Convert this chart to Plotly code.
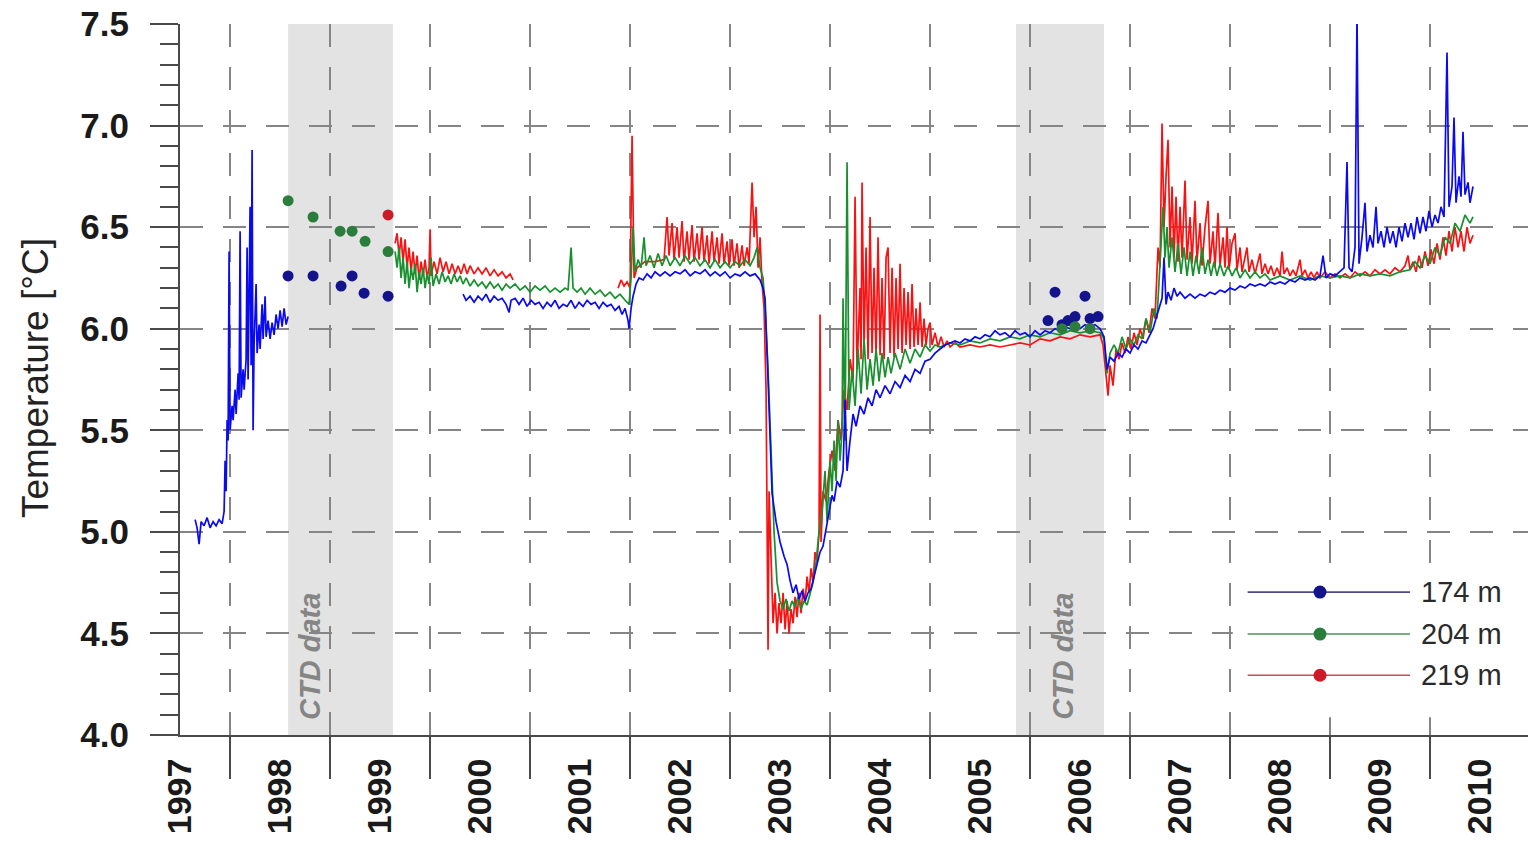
import plotly.graph_objects as go

# ---------------- data (decimal year, temperature °C) ----------------
T174 = [
    (1997.65, 5.06), (1997.67, 5.02), (1997.69, 4.94), (1997.71, 5.05), (1997.74, 5.03), (1997.77, 5.07),
    (1997.80, 5.02), (1997.83, 5.05), (1997.86, 5.03), (1997.89, 5.06), (1997.92, 5.04), (1997.94, 5.10),
    (1997.95, 5.35), (1997.96, 5.20), (1997.97, 5.55), (1997.98, 5.45), (1997.99, 6.38), (1998.00, 5.50),
    (1998.02, 5.62), (1998.03, 5.55), (1998.05, 5.70), (1998.06, 5.58), (1998.08, 5.78), (1998.09, 5.65),
    (1998.10, 6.48), (1998.11, 5.66), (1998.13, 5.80), (1998.14, 5.70), (1998.16, 5.85), (1998.17, 6.40),
    (1998.18, 5.75), (1998.20, 6.60), (1998.21, 5.82), (1998.22, 6.88), (1998.23, 5.50), (1998.24, 5.92),
    (1998.26, 6.22), (1998.27, 5.88), (1998.29, 6.02), (1998.30, 5.90), (1998.32, 6.12), (1998.33, 5.95),
    (1998.35, 6.16), (1998.36, 5.96), (1998.38, 6.04), (1998.40, 5.95), (1998.42, 6.03), (1998.44, 5.97),
    (1998.46, 6.07), (1998.48, 6.00), (1998.50, 6.09), (1998.52, 6.01), (1998.54, 6.10), (1998.56, 6.02),
    (1998.58, 6.06), (1999.00, None),
    (2000.33, 6.17), (2000.36, 6.14), (2000.40, 6.16), (2000.44, 6.13), (2000.48, 6.16), (2000.52, 6.14),
    (2000.56, 6.17), (2000.60, 6.13), (2000.64, 6.16), (2000.68, 6.14), (2000.72, 6.15), (2000.76, 6.12),
    (2000.79, 6.08), (2000.81, 6.14), (2000.85, 6.15), (2000.89, 6.12), (2000.93, 6.15), (2000.97, 6.11),
    (2001.01, 6.14), (2001.05, 6.12), (2001.09, 6.13), (2001.13, 6.10), (2001.17, 6.13), (2001.21, 6.11),
    (2001.25, 6.14), (2001.29, 6.10), (2001.33, 6.12), (2001.37, 6.11), (2001.41, 6.14), (2001.45, 6.10),
    (2001.49, 6.13), (2001.53, 6.11), (2001.57, 6.14), (2001.61, 6.12), (2001.65, 6.13), (2001.69, 6.10),
    (2001.73, 6.13), (2001.77, 6.11), (2001.81, 6.12), (2001.85, 6.09), (2001.89, 6.11), (2001.92, 6.07),
    (2001.95, 6.10), (2001.98, 6.04), (2001.99, 6.00), (2002.01, 6.10), (2002.03, 6.16), (2002.06, 6.22),
    (2002.09, 6.25), (2002.13, 6.24), (2002.17, 6.27), (2002.21, 6.25), (2002.25, 6.28), (2002.30, 6.26),
    (2002.35, 6.28), (2002.40, 6.26), (2002.45, 6.28), (2002.50, 6.27), (2002.55, 6.29), (2002.60, 6.26),
    (2002.65, 6.28), (2002.70, 6.27), (2002.75, 6.29), (2002.80, 6.26), (2002.85, 6.28), (2002.90, 6.26),
    (2002.95, 6.28), (2003.00, 6.25), (2003.05, 6.27), (2003.10, 6.26), (2003.15, 6.28), (2003.20, 6.26),
    (2003.25, 6.27), (2003.30, 6.24), (2003.33, 6.20), (2003.35, 6.15), (2003.38, 5.75), (2003.42, 5.19),
    (2003.46, 5.05), (2003.50, 4.95), (2003.54, 4.88), (2003.57, 4.84), (2003.60, 4.76), (2003.63, 4.70),
    (2003.66, 4.74), (2003.69, 4.67), (2003.72, 4.71), (2003.75, 4.66), (2003.78, 4.70), (2003.81, 4.72),
    (2003.84, 4.78), (2003.87, 4.84), (2003.90, 4.90), (2003.93, 4.93), (2003.96, 5.02), (2003.99, 5.10),
    (2004.02, 5.18), (2004.04, 5.15), (2004.07, 5.25), (2004.10, 5.22), (2004.13, 5.30), (2004.15, 5.65),
    (2004.17, 5.30), (2004.20, 5.45), (2004.23, 5.58), (2004.26, 5.52), (2004.30, 5.62), (2004.34, 5.58),
    (2004.38, 5.66), (2004.42, 5.62), (2004.46, 5.70), (2004.50, 5.66), (2004.55, 5.72), (2004.60, 5.68),
    (2004.65, 5.74), (2004.70, 5.71), (2004.75, 5.77), (2004.80, 5.74), (2004.85, 5.80), (2004.90, 5.78),
    (2004.95, 5.84), (2005.00, 5.85), (2005.05, 5.88), (2005.10, 5.90), (2005.15, 5.92), (2005.20, 5.93),
    (2005.25, 5.94), (2005.30, 5.93), (2005.35, 5.95), (2005.40, 5.94), (2005.45, 5.96), (2005.50, 5.95),
    (2005.55, 5.97), (2005.60, 5.96), (2005.65, 5.99), (2005.70, 5.97), (2005.75, 5.98), (2005.80, 5.96),
    (2005.85, 5.99), (2005.90, 5.97), (2005.95, 5.98), (2006.00, 5.96), (2006.05, 5.99), (2006.10, 5.97),
    (2006.15, 5.99), (2006.20, 5.98), (2006.25, 6.00), (2006.30, 5.99), (2006.35, 6.01), (2006.40, 6.00),
    (2006.45, 6.02), (2006.50, 6.00), (2006.55, 6.02), (2006.60, 6.01), (2006.65, 6.02), (2006.70, 6.00),
    (2006.74, 5.96), (2006.77, 5.80), (2006.80, 5.86), (2006.84, 5.84), (2006.88, 5.88), (2006.92, 5.86),
    (2006.96, 5.90), (2007.00, 5.88), (2007.04, 5.92), (2007.08, 5.90), (2007.12, 5.94), (2007.16, 5.93),
    (2007.20, 5.97), (2007.23, 6.00), (2007.26, 6.05), (2007.29, 6.10), (2007.32, 6.15), (2007.34, 6.35),
    (2007.36, 6.12), (2007.38, 6.18), (2007.41, 6.14), (2007.44, 6.20), (2007.47, 6.16), (2007.50, 6.18),
    (2007.55, 6.15), (2007.60, 6.17), (2007.65, 6.15), (2007.70, 6.17), (2007.75, 6.16), (2007.80, 6.18),
    (2007.85, 6.17), (2007.90, 6.19), (2007.95, 6.18), (2008.00, 6.20), (2008.05, 6.19), (2008.10, 6.21),
    (2008.15, 6.20), (2008.20, 6.22), (2008.25, 6.21), (2008.30, 6.22), (2008.35, 6.21), (2008.40, 6.23),
    (2008.45, 6.22), (2008.50, 6.23), (2008.55, 6.22), (2008.60, 6.24), (2008.65, 6.23), (2008.70, 6.25),
    (2008.75, 6.24), (2008.80, 6.25), (2008.85, 6.24), (2008.90, 6.26), (2008.93, 6.36), (2008.96, 6.25),
    (2009.00, 6.27), (2009.05, 6.26), (2009.10, 6.28), (2009.14, 6.30), (2009.17, 6.82), (2009.19, 6.30),
    (2009.22, 6.28), (2009.25, 6.40), (2009.27, 7.55), (2009.29, 6.32), (2009.32, 6.45), (2009.35, 6.62),
    (2009.37, 6.38), (2009.40, 6.46), (2009.43, 6.40), (2009.46, 6.60), (2009.48, 6.42), (2009.51, 6.48),
    (2009.54, 6.40), (2009.57, 6.50), (2009.60, 6.42), (2009.63, 6.48), (2009.66, 6.40), (2009.69, 6.50),
    (2009.72, 6.43), (2009.75, 6.52), (2009.78, 6.45), (2009.81, 6.52), (2009.84, 6.44), (2009.87, 6.55),
    (2009.90, 6.47), (2009.93, 6.55), (2009.96, 6.48), (2009.99, 6.58), (2010.02, 6.50), (2010.05, 6.56),
    (2010.08, 6.52), (2010.11, 6.60), (2010.14, 6.55), (2010.17, 7.36), (2010.19, 6.60), (2010.22, 6.70),
    (2010.24, 7.04), (2010.26, 6.62), (2010.29, 6.75), (2010.31, 6.65), (2010.33, 6.97), (2010.35, 6.66),
    (2010.38, 6.72), (2010.40, 6.62), (2010.43, 6.70),
]

T204 = [
    (1999.65, 6.38), (1999.67, 6.30), (1999.69, 6.40), (1999.71, 6.25), (1999.73, 6.35), (1999.75, 6.22),
    (1999.77, 6.33), (1999.79, 6.20), (1999.81, 6.30), (1999.83, 6.24), (1999.85, 6.32), (1999.87, 6.18),
    (1999.89, 6.28), (1999.91, 6.22), (1999.93, 6.30), (1999.95, 6.20), (1999.97, 6.27), (1999.99, 6.22),
    (2000.01, 6.35), (2000.03, 6.21), (2000.06, 6.27), (2000.09, 6.22), (2000.12, 6.28), (2000.15, 6.23),
    (2000.18, 6.26), (2000.21, 6.22), (2000.24, 6.27), (2000.27, 6.23), (2000.30, 6.26), (2000.33, 6.22),
    (2000.36, 6.25), (2000.40, 6.21), (2000.44, 6.24), (2000.48, 6.21), (2000.52, 6.23), (2000.56, 6.20),
    (2000.60, 6.23), (2000.64, 6.20), (2000.68, 6.22), (2000.72, 6.19), (2000.76, 6.22), (2000.80, 6.20),
    (2000.85, 6.22), (2000.90, 6.19), (2000.95, 6.21), (2001.00, 6.18), (2001.05, 6.21), (2001.10, 6.19),
    (2001.15, 6.21), (2001.20, 6.18), (2001.25, 6.20), (2001.30, 6.18), (2001.35, 6.20), (2001.38, 6.19),
    (2001.41, 6.40), (2001.43, 6.20), (2001.47, 6.18), (2001.51, 6.20), (2001.55, 6.17), (2001.60, 6.20),
    (2001.65, 6.17), (2001.70, 6.19), (2001.75, 6.16), (2001.80, 6.18), (2001.85, 6.15), (2001.90, 6.17),
    (2001.95, 6.14), (2001.99, 6.12), (2002.01, 6.25), (2002.03, 6.50), (2002.05, 6.28), (2002.08, 6.34),
    (2002.11, 6.30), (2002.14, 6.45), (2002.16, 6.31), (2002.20, 6.36), (2002.24, 6.30), (2002.28, 6.37),
    (2002.32, 6.31), (2002.36, 6.36), (2002.40, 6.31), (2002.45, 6.35), (2002.50, 6.31), (2002.55, 6.36),
    (2002.60, 6.32), (2002.65, 6.35), (2002.70, 6.31), (2002.75, 6.34), (2002.80, 6.30), (2002.85, 6.34),
    (2002.90, 6.30), (2002.95, 6.33), (2003.00, 6.30), (2003.05, 6.33), (2003.10, 6.31), (2003.15, 6.34),
    (2003.20, 6.31), (2003.24, 6.35), (2003.27, 6.40), (2003.30, 6.30), (2003.33, 6.25), (2003.35, 6.10),
    (2003.38, 5.80), (2003.41, 5.40), (2003.44, 5.00), (2003.47, 4.75), (2003.50, 4.66), (2003.53, 4.62),
    (2003.56, 4.67), (2003.59, 4.61), (2003.62, 4.66), (2003.65, 4.63), (2003.68, 4.68), (2003.71, 4.62),
    (2003.74, 4.66), (2003.77, 4.64), (2003.80, 4.70), (2003.83, 4.75), (2003.86, 4.85), (2003.89, 5.00),
    (2003.92, 5.10), (2003.95, 5.30), (2003.97, 5.05), (2004.00, 5.35), (2004.02, 5.20), (2004.04, 5.45),
    (2004.06, 5.25), (2004.08, 5.55), (2004.10, 5.35), (2004.12, 5.50), (2004.13, 6.15), (2004.15, 5.45),
    (2004.17, 6.82), (2004.19, 5.60), (2004.22, 5.80), (2004.25, 5.62), (2004.28, 5.90), (2004.31, 5.68),
    (2004.34, 5.95), (2004.37, 5.70), (2004.40, 5.85), (2004.43, 5.72), (2004.46, 5.90), (2004.49, 5.74),
    (2004.52, 5.88), (2004.55, 5.76), (2004.58, 5.86), (2004.61, 5.78), (2004.65, 5.88), (2004.70, 5.80),
    (2004.75, 5.90), (2004.80, 5.83), (2004.85, 5.90), (2004.90, 5.86), (2004.95, 5.92), (2005.00, 5.89),
    (2005.05, 5.92), (2005.10, 5.91), (2005.20, 5.93), (2005.30, 5.92), (2005.40, 5.94), (2005.50, 5.93),
    (2005.60, 5.95), (2005.70, 5.94), (2005.80, 5.96), (2005.90, 5.95), (2006.00, 5.97), (2006.10, 5.96),
    (2006.20, 5.98), (2006.30, 5.97), (2006.40, 5.99), (2006.50, 5.98), (2006.60, 5.99), (2006.70, 5.98),
    (2006.74, 5.95), (2006.77, 5.78), (2006.80, 5.88), (2006.84, 5.92), (2006.88, 5.88), (2006.92, 5.96),
    (2006.96, 5.90), (2007.00, 5.95), (2007.04, 5.92), (2007.08, 5.97), (2007.12, 5.95), (2007.16, 6.05),
    (2007.20, 5.98), (2007.24, 6.10), (2007.27, 6.05), (2007.30, 6.30), (2007.33, 6.60), (2007.35, 6.35),
    (2007.37, 6.50), (2007.39, 6.30), (2007.42, 6.45), (2007.45, 6.28), (2007.48, 6.42), (2007.51, 6.27),
    (2007.54, 6.40), (2007.57, 6.26), (2007.60, 6.38), (2007.63, 6.26), (2007.66, 6.36), (2007.69, 6.27),
    (2007.72, 6.40), (2007.75, 6.27), (2007.78, 6.34), (2007.81, 6.26), (2007.84, 6.33), (2007.87, 6.26),
    (2007.90, 6.32), (2007.94, 6.26), (2007.98, 6.31), (2008.02, 6.26), (2008.06, 6.30), (2008.10, 6.25),
    (2008.15, 6.29), (2008.20, 6.25), (2008.25, 6.28), (2008.30, 6.25), (2008.35, 6.27), (2008.40, 6.24),
    (2008.50, 6.26), (2008.60, 6.24), (2008.70, 6.26), (2008.80, 6.24), (2008.90, 6.26), (2009.00, 6.25),
    (2009.10, 6.26), (2009.20, 6.25), (2009.30, 6.27), (2009.40, 6.26), (2009.50, 6.27), (2009.60, 6.26),
    (2009.70, 6.28), (2009.80, 6.29), (2009.85, 6.33), (2009.90, 6.30), (2009.95, 6.36), (2010.00, 6.32),
    (2010.05, 6.40), (2010.10, 6.36), (2010.15, 6.45), (2010.20, 6.42), (2010.25, 6.52), (2010.30, 6.48),
    (2010.35, 6.56), (2010.40, 6.52), (2010.43, 6.55),
]

T219 = [
    (1999.65, 6.42), (1999.67, 6.47), (1999.69, 6.36), (1999.71, 6.45), (1999.73, 6.33), (1999.75, 6.44),
    (1999.77, 6.30), (1999.79, 6.40), (1999.81, 6.28), (1999.83, 6.38), (1999.85, 6.27), (1999.87, 6.36),
    (1999.89, 6.24), (1999.91, 6.33), (1999.93, 6.26), (1999.95, 6.34), (1999.97, 6.25), (1999.99, 6.30),
    (2000.00, 6.49), (2000.01, 6.26), (2000.04, 6.33), (2000.07, 6.27), (2000.10, 6.35), (2000.13, 6.28),
    (2000.16, 6.33), (2000.19, 6.27), (2000.22, 6.32), (2000.25, 6.27), (2000.28, 6.31), (2000.31, 6.27),
    (2000.34, 6.32), (2000.37, 6.27), (2000.40, 6.31), (2000.44, 6.27), (2000.48, 6.30), (2000.52, 6.27),
    (2000.56, 6.30), (2000.60, 6.26), (2000.64, 6.29), (2000.68, 6.26), (2000.72, 6.28), (2000.76, 6.25),
    (2000.80, 6.27), (2000.83, 6.24), (2000.85, None),
    (2001.88, 6.20), (2001.91, 6.24), (2001.94, 6.21), (2001.97, 6.23), (2002.00, 6.20), (2002.02, 6.95),
    (2002.04, 6.25), (2002.07, 6.30), (2002.15, 6.33), (2002.25, 6.33), (2002.34, 6.34), (2002.37, 6.55),
    (2002.39, 6.36), (2002.42, 6.52), (2002.44, 6.34), (2002.47, 6.50), (2002.49, 6.35), (2002.52, 6.53),
    (2002.54, 6.33), (2002.57, 6.48), (2002.59, 6.34), (2002.62, 6.51), (2002.64, 6.33), (2002.67, 6.47),
    (2002.69, 6.34), (2002.72, 6.50), (2002.74, 6.33), (2002.77, 6.46), (2002.79, 6.32), (2002.82, 6.48),
    (2002.84, 6.33), (2002.87, 6.45), (2002.89, 6.32), (2002.92, 6.47), (2002.94, 6.32), (2002.97, 6.43),
    (2002.99, 6.31), (2003.02, 6.44), (2003.04, 6.31), (2003.07, 6.42), (2003.09, 6.30), (2003.12, 6.41),
    (2003.14, 6.31), (2003.17, 6.40), (2003.19, 6.32), (2003.22, 6.72), (2003.24, 6.45), (2003.26, 6.60),
    (2003.28, 6.30), (2003.30, 6.45), (2003.32, 6.22), (2003.34, 6.10), (2003.36, 5.70), (2003.38, 4.42),
    (2003.39, 5.20), (2003.41, 4.80), (2003.43, 4.55), (2003.45, 4.70), (2003.47, 4.50), (2003.49, 4.65),
    (2003.51, 4.55), (2003.53, 4.70), (2003.55, 4.52), (2003.57, 4.66), (2003.59, 4.50), (2003.61, 4.62),
    (2003.63, 4.55), (2003.65, 4.68), (2003.67, 4.58), (2003.69, 4.70), (2003.71, 4.60), (2003.73, 4.72),
    (2003.75, 4.65), (2003.77, 4.78), (2003.79, 4.70), (2003.81, 4.82), (2003.83, 4.75), (2003.85, 4.90),
    (2003.87, 4.85), (2003.89, 5.00), (2003.90, 6.07), (2003.91, 4.95), (2003.93, 5.20), (2003.96, 5.15),
    (2003.99, 5.30), (2004.02, 5.40), (2004.05, 5.30), (2004.08, 5.55), (2004.11, 5.45), (2004.14, 5.70),
    (2004.17, 5.60), (2004.20, 5.85), (2004.23, 5.75), (2004.25, 6.65), (2004.27, 5.80), (2004.30, 6.20),
    (2004.31, 5.85), (2004.32, 6.72), (2004.34, 5.90), (2004.36, 6.40), (2004.38, 5.85), (2004.40, 6.55),
    (2004.42, 5.88), (2004.44, 6.30), (2004.46, 5.86), (2004.48, 6.45), (2004.50, 5.87), (2004.52, 6.25),
    (2004.54, 5.85), (2004.56, 6.35), (2004.58, 6.40), (2004.60, 5.88), (2004.62, 6.30), (2004.64, 5.86),
    (2004.66, 6.25), (2004.68, 5.90), (2004.70, 6.32), (2004.72, 5.88), (2004.74, 6.20), (2004.76, 5.92),
    (2004.78, 6.18), (2004.80, 5.90), (2004.82, 6.22), (2004.84, 5.91), (2004.86, 6.10), (2004.88, 5.92),
    (2004.90, 6.13), (2004.92, 5.91), (2004.94, 6.05), (2004.96, 5.92), (2004.98, 6.00), (2005.00, 6.03),
    (2005.02, 5.92), (2005.05, 5.98), (2005.08, 5.91), (2005.11, 5.96), (2005.14, 5.91), (2005.17, 5.94),
    (2005.20, 5.91), (2005.25, 5.93), (2005.30, 5.91), (2005.40, 5.92), (2005.50, 5.91), (2005.60, 5.92),
    (2005.70, 5.91), (2005.80, 5.92), (2005.90, 5.93), (2006.00, 5.92), (2006.10, 5.95), (2006.20, 5.94),
    (2006.30, 5.96), (2006.40, 5.95), (2006.50, 5.97), (2006.60, 5.96), (2006.70, 5.97), (2006.73, 5.92),
    (2006.76, 5.75), (2006.78, 5.67), (2006.80, 5.82), (2006.83, 5.72), (2006.86, 5.90), (2006.89, 5.85),
    (2006.92, 5.93), (2006.95, 5.88), (2006.98, 5.96), (2007.01, 5.90), (2007.04, 5.98), (2007.07, 5.92),
    (2007.10, 6.00), (2007.13, 5.95), (2007.16, 6.05), (2007.19, 5.98), (2007.22, 6.10), (2007.25, 6.05),
    (2007.28, 6.40), (2007.30, 6.30), (2007.32, 7.01), (2007.34, 6.50), (2007.36, 6.75), (2007.38, 6.93),
    (2007.40, 6.40), (2007.42, 6.70), (2007.44, 6.35), (2007.46, 6.65), (2007.48, 6.33), (2007.50, 6.60),
    (2007.52, 6.35), (2007.55, 6.73), (2007.57, 6.34), (2007.60, 6.55), (2007.62, 6.32), (2007.65, 6.63),
    (2007.67, 6.33), (2007.70, 6.52), (2007.72, 6.31), (2007.75, 6.50), (2007.78, 6.63), (2007.80, 6.32),
    (2007.83, 6.48), (2007.85, 6.30), (2007.88, 6.57), (2007.90, 6.31), (2007.93, 6.45), (2007.95, 6.30),
    (2007.97, 6.50), (2007.99, 6.29), (2008.02, 6.42), (2008.05, 6.47), (2008.07, 6.29), (2008.10, 6.40),
    (2008.12, 6.28), (2008.15, 6.36), (2008.17, 6.40), (2008.19, 6.28), (2008.22, 6.34), (2008.25, 6.27),
    (2008.28, 6.33), (2008.30, 6.37), (2008.32, 6.27), (2008.35, 6.32), (2008.38, 6.27), (2008.41, 6.31),
    (2008.44, 6.26), (2008.47, 6.30), (2008.50, 6.26), (2008.52, 6.38), (2008.54, 6.27), (2008.57, 6.30),
    (2008.60, 6.26), (2008.63, 6.29), (2008.66, 6.26), (2008.70, 6.34), (2008.72, 6.26), (2008.75, 6.29),
    (2008.78, 6.25), (2008.81, 6.28), (2008.84, 6.25), (2008.87, 6.28), (2008.90, 6.25), (2008.95, 6.28),
    (2009.00, 6.25), (2009.05, 6.27), (2009.10, 6.25), (2009.15, 6.27), (2009.20, 6.25), (2009.25, 6.28),
    (2009.30, 6.26), (2009.35, 6.28), (2009.40, 6.26), (2009.45, 6.29), (2009.50, 6.27), (2009.55, 6.29),
    (2009.60, 6.27), (2009.65, 6.30), (2009.70, 6.28), (2009.75, 6.31), (2009.78, 6.36), (2009.80, 6.29),
    (2009.83, 6.33), (2009.86, 6.28), (2009.89, 6.36), (2009.92, 6.30), (2009.95, 6.38), (2009.98, 6.31),
    (2010.01, 6.39), (2010.04, 6.32), (2010.07, 6.42), (2010.10, 6.34), (2010.13, 6.45), (2010.16, 6.36),
    (2010.19, 6.48), (2010.22, 6.38), (2010.25, 6.50), (2010.28, 6.40), (2010.31, 6.48), (2010.34, 6.38),
    (2010.37, 6.50), (2010.40, 6.42), (2010.43, 6.46),
]

# CTD casts (points)
CTD_174 = [(1998.58, 6.26), (1998.83, 6.26), (1999.11, 6.21), (1999.22, 6.26), (1999.34, 6.175), (1999.58, 6.16),
           (2006.18, 6.04), (2006.25, 6.18), (2006.32, 6.02), (2006.38, 6.04), (2006.45, 6.06),
           (2006.55, 6.16), (2006.60, 6.05), (2006.68, 6.06)]
CTD_204 = [(1998.58, 6.63), (1998.83, 6.55), (1999.10, 6.48), (1999.22, 6.48), (1999.35, 6.43), (1999.58, 6.38),
           (2006.32, 6.00), (2006.45, 6.01), (2006.60, 6.00)]
CTD_219 = [(1999.58, 6.56)]

CTD_PERIODS = [(1998.58, 1999.63), (2005.86, 2006.74)]
CTD_LABEL_X = [1998.80, 2006.33]
YEARS = list(range(1997, 2011))
SERIES = [("174 m", T174, CTD_174), ("204 m", T204, CTD_204), ("219 m", T219, CTD_219)]

LINE_COLORS = {"174 m": "#0a0af0", "204 m": "#17902e", "219 m": "#fa1212"}
DOT_COLORS = {"174 m": "#13138c", "204 m": "#2b7d3c", "219 m": "#cc1a28"}
LEG_LINE = {"174 m": "#4a4a8c", "204 m": "#4f9060", "219 m": "#d84848"}

FONT = "Liberation Sans, Arial, Helvetica, sans-serif"

fig = go.Figure()

# lines: red first, then green, then blue on top
for name, data, _ in reversed(SERIES):
    fig.add_trace(go.Scatter(x=[p[0] for p in data], y=[p[1] for p in data], mode="lines",
                             name=name, showlegend=False, connectgaps=False,
                             line=dict(color=LINE_COLORS[name], width=1.7)))

for name, _, ctd in SERIES:
    fig.add_trace(go.Scatter(x=[p[0] for p in ctd], y=[p[1] for p in ctd], mode="markers",
                             showlegend=False,
                             marker=dict(color=DOT_COLORS[name], size=11, line=dict(width=0))))

shapes = []
annotations = []
for (x0, x1), lx in zip(CTD_PERIODS, CTD_LABEL_X):
    shapes.append(dict(type="rect", xref="x", yref="paper", x0=x0, x1=x1, y0=0, y1=1,
                       fillcolor="#e3e3e3", line=dict(width=0), layer="below"))
    annotations.append(dict(x=lx, y=4.385, xref="x", yref="y", text="<b><i>CTD data</i></b>",
                            textangle=-90, showarrow=False,
                            font=dict(family=FONT, size=29, color="#858585")))

# legend box (hides gridlines) + custom legend entries
shapes.append(dict(type="rect", xref="paper", yref="paper", x0=0.781, x1=1.0, y0=0.025, y1=0.232,
                   fillcolor="white", line=dict(width=0), layer="above"))
leg_y = [0.201, 0.142, 0.084]
for (name, _, _), yy in zip(SERIES, leg_y):
    shapes.append(dict(type="line", xref="paper", yref="paper", x0=0.792, x1=0.9125, y0=yy, y1=yy,
                       line=dict(color=LEG_LINE[name], width=1.6), layer="above"))
    shapes.append(dict(type="circle", xref="paper", yref="paper", xsizemode="pixel", ysizemode="pixel",
                       xanchor=0.8457, yanchor=yy, x0=-6.5, x1=6.5, y0=-6.5, y1=6.5,
                       fillcolor=DOT_COLORS[name], line=dict(width=0), layer="above"))
    annotations.append(dict(x=0.9195, y=yy, xref="paper", yref="paper", text=name, showarrow=False,
                            xanchor="left", yanchor="middle",
                            font=dict(family=FONT, size=29, color="#2a2a2a")))

annotations.append(dict(x=-0.1076, y=0.502, xref="paper", yref="paper", text="Temperature [°C]",
                        textangle=-90, showarrow=False, xanchor="center", yanchor="middle",
                        font=dict(family=FONT, size=37, color="#222222")))

grid_dash = "23px,20px"
fig.update_layout(
    width=1528, height=843,
    margin=dict(l=180, r=0, t=24, b=108),
    paper_bgcolor="white", plot_bgcolor="white",
    font=dict(family=FONT, color="#1a1a1a"),
    shapes=shapes, annotations=annotations,
    showlegend=False,
    xaxis=dict(
        range=[1997.499, 2010.98], showgrid=False, zeroline=False,
        tickmode="array", tickvals=[y + 0.5 for y in YEARS],
        ticktext=["<b>%d</b>" % y for y in YEARS],
        tickangle=-90, ticks="", ticklabelstandoff=8,
        tickfont=dict(family=FONT, size=34, color="#1a1a1a"),
        showline=True, linecolor="#4a4a4a", linewidth=2,
        minor=dict(tickmode="array", tickvals=YEARS[1:], ticks="outside", ticklen=42,
                   tickwidth=2, tickcolor="#4a4a4a", showgrid=True, gridcolor="#858585",
                   gridwidth=1.7, griddash=grid_dash),
    ),
    yaxis=dict(
        range=[4.0, 7.5], zeroline=False,
        tickmode="array", tickvals=[4.0, 4.5, 5.0, 5.5, 6.0, 6.5, 7.0, 7.5],
        ticktext=["<b>%s</b>" % t for t in ["4.0", "4.5", "5.0", "5.5", "6.0", "6.5", "7.0", "7.5"]],
        ticks="outside", ticklen=28, tickwidth=2, tickcolor="#4a4a4a", ticklabelstandoff=14,
        tickfont=dict(family=FONT, size=35, color="#1a1a1a"),
        showgrid=True, gridcolor="#858585", gridwidth=1.7, griddash=grid_dash,
        showline=True, linecolor="#4a4a4a", linewidth=2,
        minor=dict(tick0=4.0, dtick=0.1, ticks="outside", ticklen=18, tickwidth=2,
                   tickcolor="#4a4a4a", showgrid=False),
    ),
)

fig.write_html("out.html", config={"displayModeBar": False},
               post_script="document.body.style.margin='0';document.body.style.overflow='hidden';")
